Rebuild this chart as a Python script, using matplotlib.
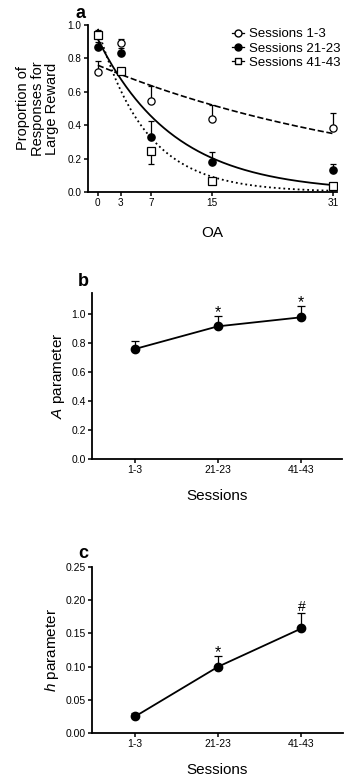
import matplotlib.pyplot as plt
import numpy as np
from matplotlib.lines import Line2D

plt.rcParams['font.family'] = ['Liberation Sans', 'DejaVu Sans']
plt.rcParams['mathtext.fontset'] = 'custom'
plt.rcParams['mathtext.it'] = 'Liberation Sans:italic'
plt.rcParams['mathtext.rm'] = 'Liberation Sans'

# panel a data
oa = [0, 3, 7, 15, 31]
s1_3 = [0.717, 0.89, 0.547, 0.435, 0.381]
s1_3_err = [0.07, 0.028, 0.088, 0.086, 0.094]
s21_23 = [0.868, 0.832, 0.327, 0.18, 0.13]
s21_23_err = [0.028, 0.03, 0.10, 0.06, 0.04]
s41_43 = [0.942, 0.725, 0.246, 0.064, 0.034]
s41_43_err_lo = [0.0, 0.0, 0.08, 0.0, 0.0]
s41_43_err_hi = [0.03, 0.01, 0.0, 0.01, 0.005]

# panels b, c
sessions = ['1-3', '21-23', '41-43']
A_param = [0.759, 0.915, 0.977]
A_err = [0.057, 0.07, 0.076]
A_sig = ['', '*', '*']
h_param = [0.025, 0.100, 0.1575]
h_err = [0.005, 0.0165, 0.0235]
h_sig = ['', '*', '#']

W, H = 346, 779
fig = plt.figure(figsize=(W / 100, H / 100), dpi=100)


def style(ax, lsize):
    for s in ['top', 'right']:
        ax.spines[s].set_visible(False)
    for s in ['left', 'bottom']:
        ax.spines[s].set_linewidth(1.3)
    ax.tick_params(direction='out', length=3, width=1.1, labelsize=lsize, pad=1.5)


# ---- panel a
ax = fig.add_axes([88 / W, 1 - 192 / H, (337 - 88) / W, (192 - 25) / H])
style(ax, 7.2)
xx = np.linspace(0, 31, 200)
ax.plot(xx, A_param[0] * np.exp(-h_param[0] * xx), 'k--', lw=1.2)
ax.plot(xx, A_param[1] * np.exp(-h_param[1] * xx), 'k-', lw=1.3)
ax.plot(xx, A_param[2] * np.exp(-h_param[2] * xx), 'k:', lw=1.3)

ax.errorbar(oa, s1_3, yerr=[np.zeros(5), s1_3_err], fmt='o', mfc='white', mec='black',
            ms=5.2, ecolor='black', elinewidth=0.9, capsize=2.5, capthick=0.9, mew=0.9, zorder=3)
ax.errorbar(oa, s21_23, yerr=[np.zeros(5), s21_23_err], fmt='o', mfc='black', mec='black',
            ms=5.2, ecolor='black', elinewidth=0.9, capsize=2.5, capthick=0.9, zorder=3)
ax.errorbar(oa, s41_43, yerr=[s41_43_err_lo, s41_43_err_hi], fmt='s', mfc='white', mec='black',
            ms=5.7, ecolor='black', elinewidth=0.9, capsize=2.5, capthick=0.9, mew=0.9, zorder=3)

ax.set_xlim(-1.3, 31.5)
ax.set_ylim(0, 1.0)
ax.set_xticks(oa)
ax.set_yticks([0, 0.2, 0.4, 0.6, 0.8, 1.0])
ax.set_yticklabels(['0.0', '0.2', '0.4', '0.6', '0.8', '1.0'])
ax.set_xlabel('OA', fontsize=11, labelpad=13)
ax.set_ylabel('Proportion of\nResponses for\nLarge Reward', fontsize=10.5, labelpad=6,
              linespacing=1.05)
handles = [
    Line2D([], [], color='k', lw=0.9, marker='o', mfc='white', mec='k', ms=5),
    Line2D([], [], color='k', lw=0.9, marker='o', mfc='black', mec='k', ms=5),
    Line2D([], [], color='k', lw=0.9, marker='s', mfc='white', mec='k', ms=5),
]
ax.legend(handles, ['Sessions 1-3', 'Sessions 21-23', 'Sessions 41-43'], loc='upper left',
          bbox_to_anchor=(232 / W, 1 - 28 / H), bbox_transform=fig.transFigure,
          frameon=False, fontsize=9.5, handlelength=0.9,
          handletextpad=0.4, labelspacing=0.16, borderpad=0, borderaxespad=0)
fig.text(80 / W, 1 - 13 / H, 'a', fontsize=13, fontweight='bold', ha='center', va='center')


# ---- panels b, c
def param_panel(rect, vals, errs, sig, ylim, yticks, fmt, ylabel, letter, letter_xy):
    ax = fig.add_axes(rect)
    style(ax, 7.5)
    x = np.arange(len(sessions))
    ax.errorbar(x, vals, yerr=[np.zeros(len(vals)), errs], fmt='-o', color='black',
                ms=6, lw=1.3, elinewidth=0.9, capsize=3, capthick=0.9)
    for xi, v, e, s in zip(x, vals, errs, sig):
        if s == '*':
            ax.annotate(s, (xi, v + e), xytext=(0, -0.8), textcoords='offset points',
                        ha='center', va='baseline', fontsize=11.5)
        elif s:
            ax.annotate(s, (xi, v + e), xytext=(0, 1.5), textcoords='offset points',
                        ha='center', va='baseline', fontsize=10)
    ax.set_xlim(-0.52, 2.5)
    ax.set_ylim(*ylim)
    ax.set_xticks(x)
    ax.set_xticklabels(sessions)
    ax.set_yticks(yticks)
    ax.set_yticklabels([fmt.format(t) for t in yticks])
    ax.set_xlabel('Sessions', fontsize=11, labelpad=10)
    ax.set_ylabel(ylabel, fontsize=11, labelpad=3)
    fig.text(letter_xy[0] / W, 1 - letter_xy[1] / H, letter, fontsize=13, fontweight='bold',
             ha='center', va='center')
    return ax


param_panel([92 / W, 1 - 459 / H, (342 - 92) / W, (459 - 293) / H], A_param, A_err, A_sig,
            (0, 1.145), [0, 0.2, 0.4, 0.6, 0.8, 1.0], '{:.1f}', r'$\it{A}$ parameter', 'b', (83, 282))
param_panel([92 / W, 1 - 733 / H, (343 - 92) / W, (733 - 567) / H], h_param, h_err, h_sig,
            (0, 0.25), [0, 0.05, 0.10, 0.15, 0.20, 0.25], '{:.2f}', r'$\it{h}$ parameter', 'c', (83, 553))

fig.savefig('out.png', dpi=100)
